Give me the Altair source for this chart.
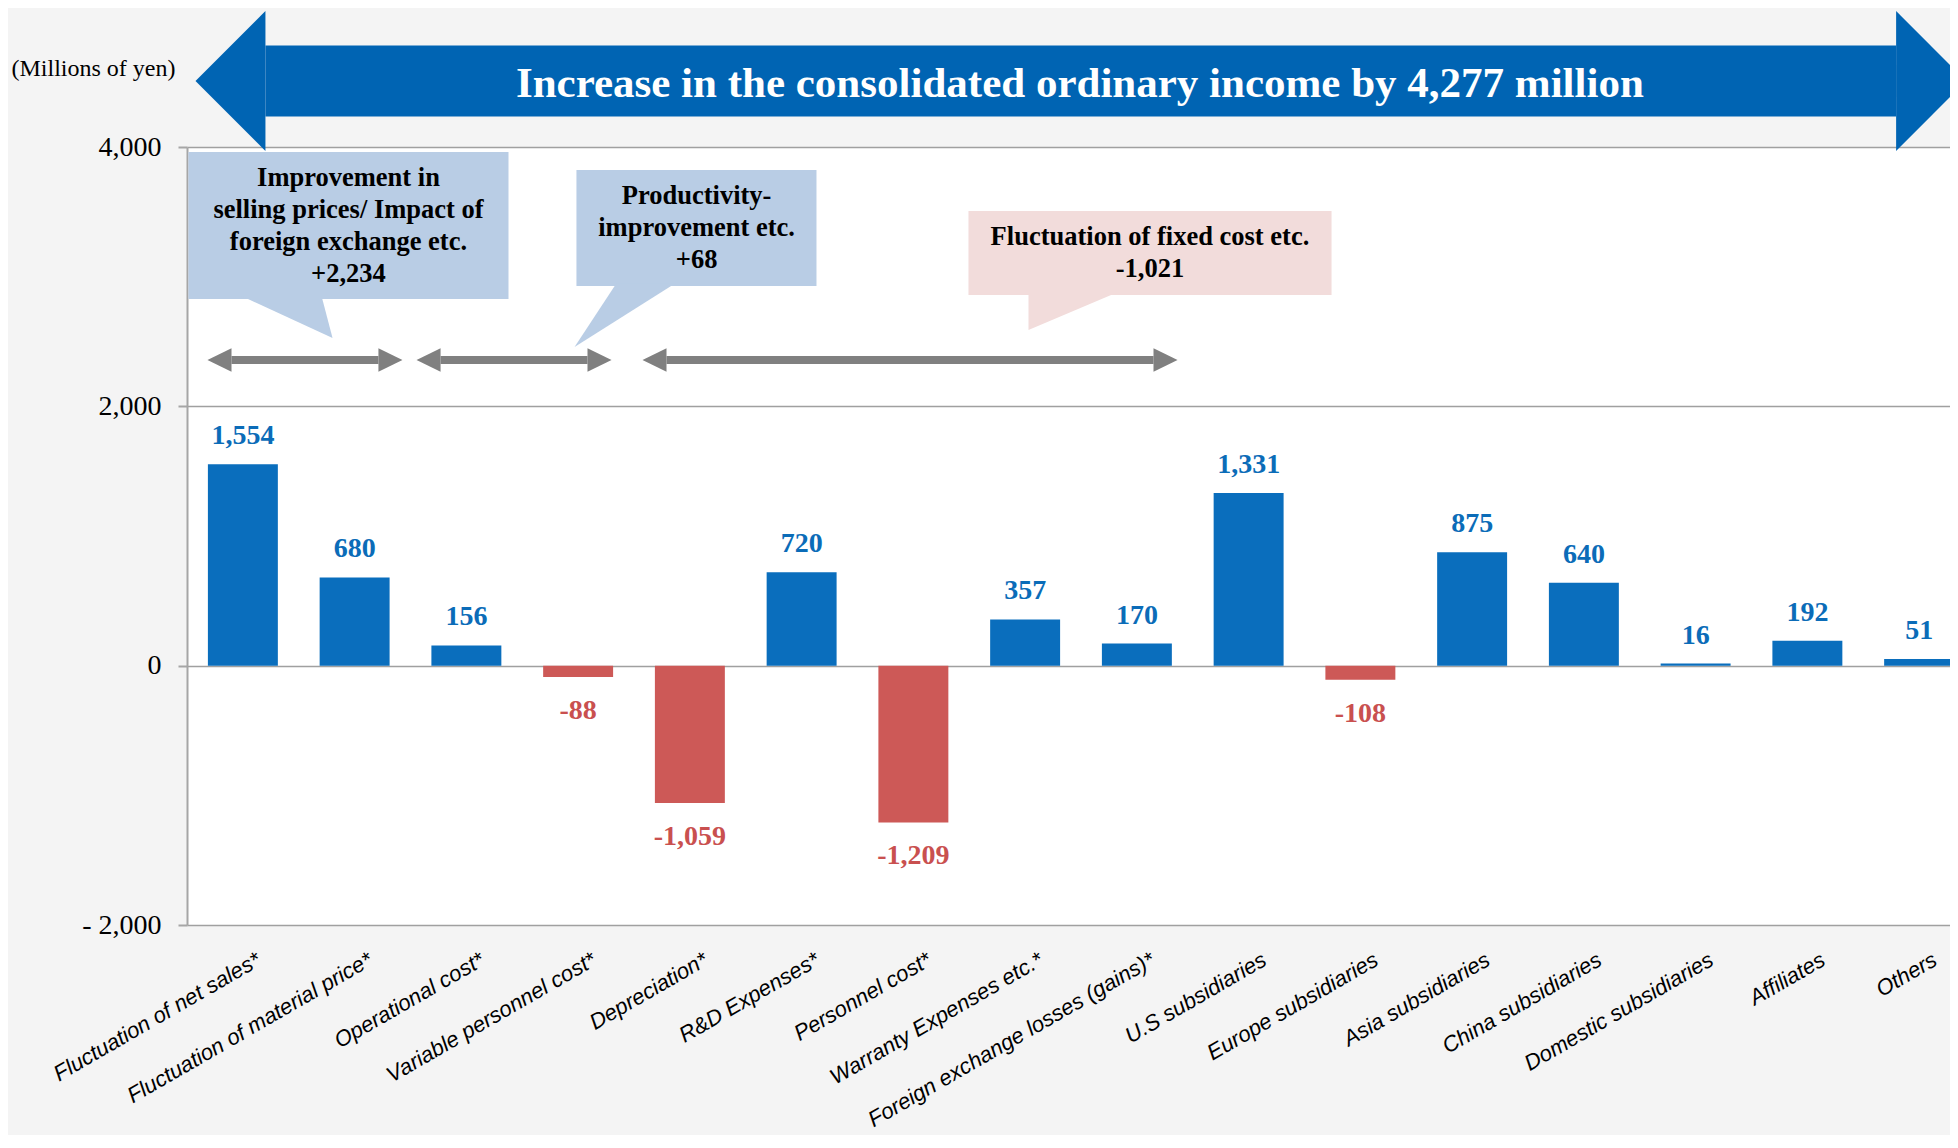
import altair as alt
import pandas as pd

# ---------------- data ----------------
categories = [
    "Fluctuation of net sales*", "Fluctuation of material price*", "Operational cost*",
    "Variable personnel cost*", "Depreciation*", "R&D Expenses*", "Personnel cost*",
    "Warranty Expenses etc.*", "Foreign exchange losses (gains)*", "U.S subsidiaries",
    "Europe subsidiaries", "Asia subsidiaries", "China subsidiaries",
    "Domestic subsidiaries", "Affiliates", "Others",
]
values = [1554, 680, 156, -88, -1059, 720, -1209, 357, 170, 1331, -108, 875, 640, 16, 192, 51]

y_domain = [-2000, 4000]
y_ticks = [-2000, 0, 2000, 4000]

unit_label = "(Millions of yen)"
headline = "Increase in the consolidated ordinary income by 4,277 million"

# callouts: x in category slots (0..16), y in millions of yen
callout_text = [
    "Improvement in\nselling prices/ Impact of\nforeign exchange etc.\n+2,234",
    "Productivity-\nimprovement etc.\n+68",
    "Fluctuation of fixed cost etc.\n-1,021",
]
callout_fill = ["#b9cde5", "#b9cde5", "#f2dcdb"]
callout_x0 = [0.013, 3.485, 6.993]
callout_x1 = [2.877, 5.633, 10.242]
callout_y0 = [2828, 2928, 2859]
callout_y1 = [3961, 3823, 3506]
pointer_base_y = [2850, 2950, 2880]
pointer_base_x0 = [0.488, 3.843, 7.530]
pointer_base_x1 = [1.204, 4.371, 8.327]
pointer_tip_x = [1.302, 3.468, 7.530]
pointer_tip_y = [2527, 2458, 2589]
callout_text_x = [1.445, 4.56, 8.617]
callout_text_y = [3699, 3560, 3244]

# grey range arrows
span_start = [0.183, 2.054, 4.076]
span_end = [1.928, 3.799, 8.864]
span_level = 2357
span_head_len = 0.215
span_shaft_half = 31

# big headline arrow
big_start, big_end, big_level = 0.076, 15.92, 4509
big_head_len = 0.626
big_shaft_half = 274
headline_x, headline_y = 7.99, 4386
unit_x, unit_y = -0.837, 4548

# ---------------- style ----------------
BLUE = "#0a6ebd"
RED = "#cd5957"
BLUE_TXT = "#0b6cb8"
RED_TXT = "#c9504f"
ARROW_BLUE = "#0064b3"
GREY = "#808080"
BG = "#f4f4f4"
SERIF = "Liberation Serif"
SANS = "Liberation Sans"

W, H = 1763, 778
STEP = 111.75                      # px per category slot
SPAN = 16 * STEP
PX_PER_Y = H / (y_domain[1] - y_domain[0])

df = pd.DataFrame({"cat": categories, "value": values})
df["lbl"] = [("-" if v < 0 else "") + f"{abs(v):,}" for v in values]

y_scale = alt.Scale(domain=y_domain, nice=False)
band_scale = alt.Scale(domain=categories, range=[0, SPAN], paddingInner=0.374, paddingOuter=0.187)
q_scale = alt.Scale(domain=[0, 16], range=[0, SPAN], nice=False, zero=False)

y_axis = alt.Axis(
    values=y_ticks,
    labelExpr="datum.value < 0 ? '- ' + format(-datum.value, ',') : format(datum.value, ',')",
    labelFont=SERIF, labelFontSize=28, labelColor="#000000", labelPadding=17,
    tickSize=9, tickColor="#a6a6a6", tickWidth=2,
    domainColor="#a6a6a6", domainWidth=2,
    grid=True, gridColor="#a0a0a0", gridWidth=1.6,
)


def xq(field="x"):
    return alt.X(f"{field}:Q", scale=q_scale, axis=None, title=None)


def yq(field="y"):
    return alt.Y(f"{field}:Q", scale=y_scale, axis=y_axis, title=None)


def tri_path(length_ratio, direction):
    # unit triangle: tip at +/-length_ratio on x, base on x=0 spanning y in [-1, 1]
    tip = -length_ratio if direction == "left" else length_ratio
    return f"M{tip:.3f},0L0,-1L0,1Z"


# ---------------- layers ----------------
bars = alt.Chart(df).mark_bar().encode(
    x=alt.X(
        "cat:N", sort=categories, scale=band_scale, title=None,
        axis=alt.Axis(
            labelAngle=330, labelAlign="right", labelBaseline="top",
            labelFont=SANS, labelFontStyle="italic", labelFontSize=22,
            labelColor="#000000", labelPadding=24, labelOffset=11,
            ticks=False, tickSize=0,
            domain=False, grid=False, labelLimit=600, labelOverlap=False,
            labelBound=False,
        ),
    ),
    y=alt.Y("value:Q", scale=y_scale, title=None, axis=y_axis),
    color=alt.condition("datum.value < 0", alt.value(RED), alt.value(BLUE)),
)

x_band_noaxis = alt.X("cat:N", sort=categories, scale=band_scale, axis=None, title=None)

pos_labels = alt.Chart(df).transform_filter("datum.value >= 0").mark_text(
    font=SERIF, fontWeight="bold", fontSize=28, color=BLUE_TXT,
    baseline="alphabetic", dy=-20,
).encode(x=x_band_noaxis, y=alt.Y("value:Q", scale=y_scale, axis=y_axis, title=None), text="lbl:N")

neg_labels = alt.Chart(df).transform_filter("datum.value < 0").mark_text(
    font=SERIF, fontWeight="bold", fontSize=28, color=RED_TXT,
    baseline="alphabetic", dy=42,
).encode(x=x_band_noaxis, y=alt.Y("value:Q", scale=y_scale, axis=y_axis, title=None), text="lbl:N")

# ---- big headline arrow: shaft + two heads ----
big_shaft_df = pd.DataFrame({
    "x": [big_start + big_head_len], "x2": [big_end - big_head_len],
    "y": [big_level - big_shaft_half], "y2": [big_level + big_shaft_half],
})
big_shaft = alt.Chart(big_shaft_df).mark_rect(color=ARROW_BLUE).encode(
    x=xq(), x2="x2:Q", y=yq(), y2="y2:Q"
)
big_head_half_px = 540 * PX_PER_Y
big_head_len_px = big_head_len * STEP
big_head_size = (2 * big_head_half_px) ** 2
big_ratio = big_head_len_px / big_head_half_px
big_left_df = pd.DataFrame({"x": [big_start + big_head_len], "y": [big_level]})
big_right_df = pd.DataFrame({"x": [big_end - big_head_len], "y": [big_level]})
big_head_l = alt.Chart(big_left_df).mark_point(
    shape=tri_path(big_ratio, "left"), filled=True, size=big_head_size,
    color=ARROW_BLUE, opacity=1, strokeWidth=0,
).encode(x=xq(), y=yq())
big_head_r = alt.Chart(big_right_df).mark_point(
    shape=tri_path(big_ratio, "right"), filled=True, size=big_head_size,
    color=ARROW_BLUE, opacity=1, strokeWidth=0,
).encode(x=xq(), y=yq())

head_df = pd.DataFrame({"x": [headline_x], "y": [headline_y], "t": [headline]})
headline_txt = alt.Chart(head_df).mark_text(
    font=SERIF, fontWeight="bold", fontSize=43, color="#ffffff", align="center", baseline="alphabetic"
).encode(x=xq(), y=yq(), text="t:N")

unit_df = pd.DataFrame({"x": [unit_x], "y": [unit_y], "t": [unit_label]})
unit_txt = alt.Chart(unit_df).mark_text(
    font=SERIF, fontSize=24, color="#000000", align="center", baseline="alphabetic"
).encode(x=xq(), y=yq(), text="t:N")

# ---- grey range arrows ----
span_shaft_df = pd.DataFrame({
    "x": [a + span_head_len for a in span_start],
    "x2": [b - span_head_len for b in span_end],
    "y": [span_level - span_shaft_half] * 3,
    "y2": [span_level + span_shaft_half] * 3,
})
span_shafts = alt.Chart(span_shaft_df).mark_rect(color=GREY).encode(
    x=xq(), x2="x2:Q", y=yq(), y2="y2:Q"
)
span_head_half_px = 11.7
span_head_size = (2 * span_head_half_px) ** 2
span_ratio = span_head_len * STEP / span_head_half_px
span_l_df = pd.DataFrame({"x": [a + span_head_len for a in span_start], "y": [span_level] * 3})
span_r_df = pd.DataFrame({"x": [b - span_head_len for b in span_end], "y": [span_level] * 3})
span_heads_l = alt.Chart(span_l_df).mark_point(
    shape=tri_path(span_ratio, "left"), filled=True, size=span_head_size,
    color=GREY, opacity=1, strokeWidth=0,
).encode(x=xq(), y=yq())
span_heads_r = alt.Chart(span_r_df).mark_point(
    shape=tri_path(span_ratio, "right"), filled=True, size=span_head_size,
    color=GREY, opacity=1, strokeWidth=0,
).encode(x=xq(), y=yq())

# ---- callouts ----
box_df = pd.DataFrame({"x": callout_x0, "x2": callout_x1, "y": callout_y0, "y2": callout_y1,
                       "fill": callout_fill})
boxes = alt.Chart(box_df).mark_rect().encode(
    x=xq(), x2="x2:Q", y=yq(), y2="y2:Q", color=alt.Color("fill:N", scale=None)
)

pointer_layers = []
for i in range(3):
    w = (pointer_base_x1[i] - pointer_base_x0[i]) * STEP
    tx = (pointer_tip_x[i] - pointer_base_x0[i]) * STEP
    ty = (pointer_base_y[i] - pointer_tip_y[i]) * PX_PER_Y
    path = f"M0,0L{w:.1f},0L{tx:.1f},{ty:.1f}Z"
    pdf = pd.DataFrame({"x": [pointer_base_x0[i]], "y": [pointer_base_y[i]]})
    pointer_layers.append(
        alt.Chart(pdf).mark_point(
            shape=path, filled=True, size=4, color=callout_fill[i], opacity=1, strokeWidth=0,
        ).encode(x=xq(), y=yq())
    )

ctext_df = pd.DataFrame({"x": callout_text_x, "y": callout_text_y, "t": callout_text})
callout_txt = alt.Chart(ctext_df).mark_text(
    font=SERIF, fontWeight="bold", fontSize=26.5, color="#000000", align="center",
    baseline="alphabetic", lineBreak="\n", lineHeight=32,
).encode(x=xq(), y=yq(), text="t:N")

chart = alt.layer(
    bars, pos_labels, neg_labels,
    span_shafts, span_heads_l, span_heads_r,
    boxes, *pointer_layers, callout_txt,
    big_shaft, big_head_l, big_head_r, headline_txt, unit_txt,
).resolve_scale(x="independent").properties(
    width=W, height=H,
    autosize=alt.AutoSizeParams(type="none"),
    padding={"left": 179, "top": 139, "right": 0, "bottom": 210},
    background=BG,
).configure_view(fill="#ffffff", stroke="transparent")

chart.save("out.html", embed_options={"renderer": "svg", "actions": False})
